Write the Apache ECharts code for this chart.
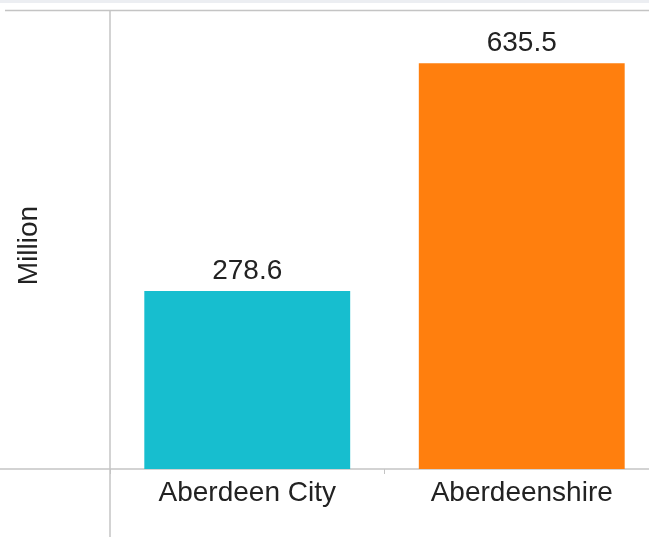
<!DOCTYPE html>
<html>
<head>
<meta charset="utf-8">
<script src="https://cdn.jsdelivr.net/npm/echarts@6/dist/echarts.min.js"></script>
<style>
  html, body { margin: 0; padding: 0; background: #fff; }
  #main { width: 649px; height: 537px; }
</style>
</head>
<body>
<div id="main"></div>
<script>
var categories = ['Aberdeen City', 'Aberdeenshire'];
var values = [278.6, 635.5];
var barColors = ['#17becf', '#ff7f0e'];
var yName = 'Million';

var font = "'Liberation Sans', Arial, sans-serif";
var myChart = echarts.init(document.getElementById('main'));
var lineStyle = { stroke: '#c4c4c4', lineWidth: 1.5 };

myChart.setOption({
    animation: false,
    textStyle: { fontFamily: font },
    grid: { left: 110, top: 22, width: 549, height: 447, outerBoundsMode: 'none', containLabel: false },
    xAxis: {
        type: 'category',
        data: categories,
        axisLine: { show: false },
        axisTick: { show: true, length: 5, lineStyle: { color: '#c4c4c4' } },
        axisLabel: { color: '#222', fontSize: 28, fontFamily: font, margin: 10 }
    },
    yAxis: {
        type: 'value',
        min: 0,
        max: 700,
        name: yName,
        nameLocation: 'middle',
        nameRotate: 90,
        nameGap: 67,
        nameTextStyle: { color: '#222', fontSize: 28, fontFamily: font },
        axisLine: { show: false },
        axisTick: { show: false },
        axisLabel: { show: false },
        splitLine: { show: false }
    },
    series: [{
        type: 'bar',
        barWidth: '75%',
        data: values.map(function (v, i) {
            return { value: v, itemStyle: { color: barColors[i] } };
        }),
        label: {
            show: true,
            position: 'top',
            distance: 6,
            color: '#222',
            fontSize: 28,
            fontFamily: font
        }
    }],
    graphic: [
        { type: 'rect', shape: { x: 0, y: 0, width: 649, height: 3 }, style: { fill: '#eceef2' }, silent: true },
        { type: 'line', shape: { x1: 5, y1: 10.5, x2: 649, y2: 10.5 }, style: lineStyle, silent: true },
        { type: 'line', shape: { x1: 110, y1: 10, x2: 110, y2: 537 }, style: lineStyle, silent: true },
        { type: 'line', shape: { x1: 0, y1: 469, x2: 649, y2: 469 }, style: lineStyle, silent: true }
    ]
});
</script>
</body>
</html>
